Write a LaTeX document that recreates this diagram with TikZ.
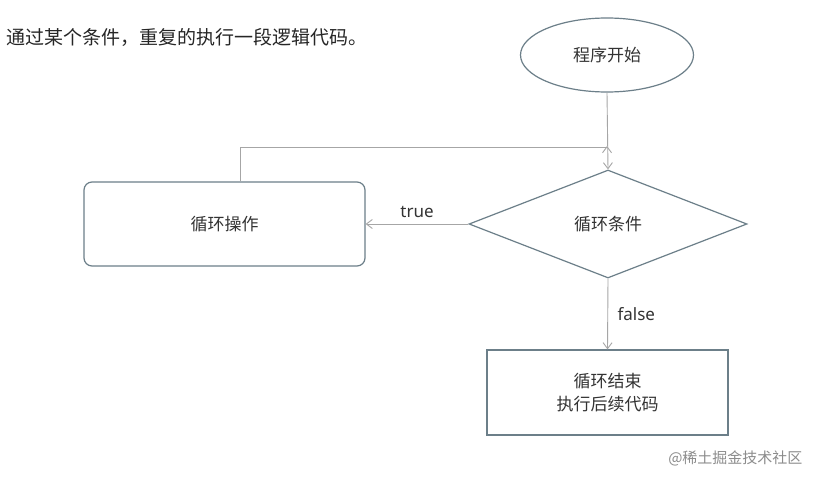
\documentclass[tikz,border=0pt]{standalone}
\usepackage{fontspec}
\setmainfont{Noto Sans}
\newfontfamily\cjk{Noto Sans CJK SC}
\usetikzlibrary{shapes.geometric,arrows.meta}
\begin{document}
\begin{tikzpicture}[x=1pt,y=-1pt,
  shp/.style={draw=black!55!cyan!50!gray, line width=1.2pt, fill=white, font=\cjk\fontsize{17}{23}\selectfont, text=black!80, align=center},
  arr/.style={draw=black!35, line width=0.9pt, -{Straight Barb[length=6pt,width=9pt]}},
  lbl/.style={font=\fontsize{17}{20}\selectfont, text=black!80}]
\fill[white] (0,0) rectangle (819,482);
\useasboundingbox (0,0) rectangle (819,482);
\node[anchor=west, font=\cjk\fontsize{19}{22}\selectfont, text=black!85] (title) at (3,37) {通过某个条件，重复的执行一段逻辑代码。};
\node[shp, ellipse, minimum width=173pt, minimum height=74pt] (start) at (607,55) {程序开始};
\node[shp, diamond, minimum width=278pt, minimum height=108pt, aspect=2.57, inner sep=0pt] (cond) at (608,224) {循环条件};
\node[shp, rounded corners=8pt, minimum width=281pt, minimum height=84pt] (loop) at (224.5,224) {循环操作};
\node[shp, minimum width=241pt, minimum height=85pt] (end) at (607.5,392.5) {循环结束\\执行后续代码};
\coordinate (m) at (607,146);
\coordinate (ls) at ([xshift=16pt]loop.north);
\draw[arr] (start.south) -- (cond.north);
\draw[arr] (ls) -- ++(0,-34) -| (m);
\draw[arr] (cond.west) -- node[lbl, above=3pt] {true} (loop.east);
\draw[arr] (cond.south) -- node[lbl, right=6pt] {false} (end.north);
\node[anchor=east, font=\cjk\fontsize{15}{17}\selectfont, text=black!45] (wm) at (806,458) {@稀土掘金技术社区};
\end{tikzpicture}
\end{document}
